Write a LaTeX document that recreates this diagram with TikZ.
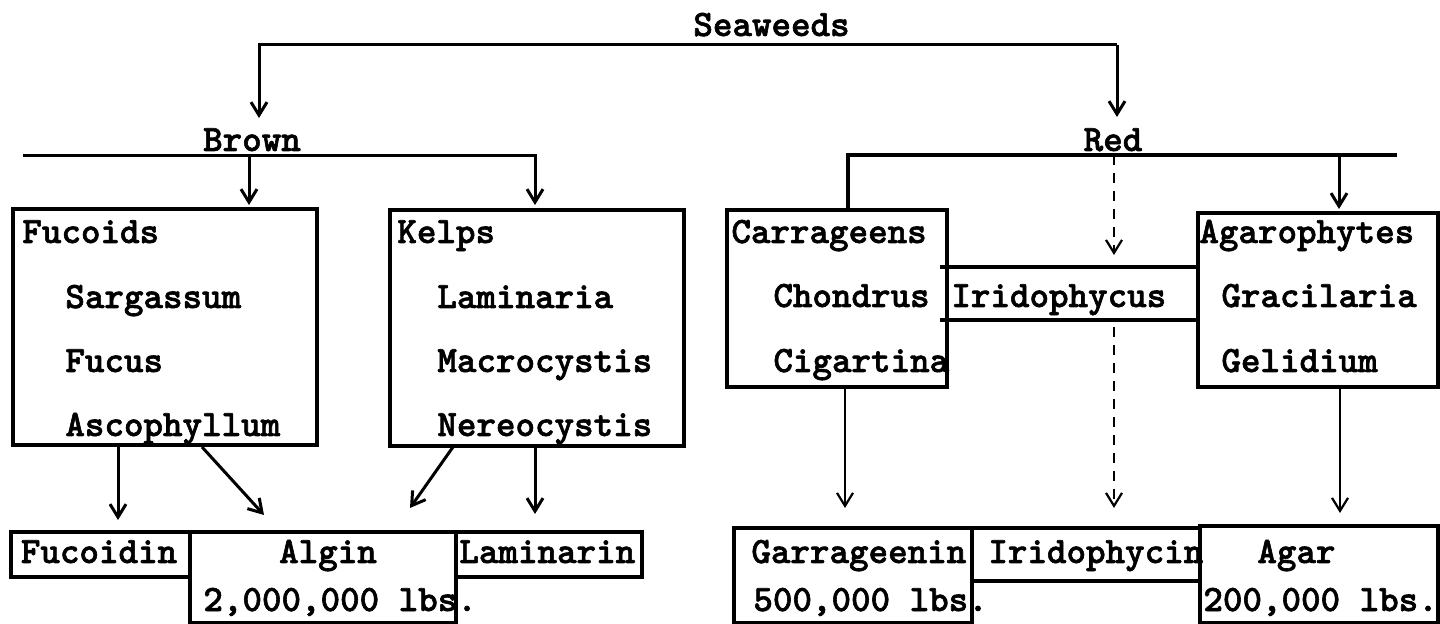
\documentclass[tikz,border=0pt]{standalone}
\usepackage{fontspec}
\newfontfamily\typewriter{lmmonolt10-bold}[Extension=.otf, FakeBold=1.6]
\usetikzlibrary{arrows.meta,fit}
\tikzset{
  lbl/.style={font=\typewriter\fontsize{18.6}{20}\selectfont, inner sep=0pt},
  box/.style={draw, line width=1.6pt, inner sep=0pt},
  ln/.style={line width=1.6pt},
  arr/.style={line width=1.5pt, -{Straight Barb[length=6.5pt,width=8pt]}},
  tarr/.style={line width=1.1pt, -{Straight Barb[length=6.5pt,width=8pt]}},
  darr/.style={tarr, dash pattern=on 5pt off 4pt},
}
\begin{document}
\begin{tikzpicture}[x=0.5pt,y=-0.5pt]
\fill[white] (0,0) rectangle (1440,624);
\useasboundingbox (0,0) rectangle (1440,624);

% ---------- headings ----------
\node[lbl, anchor=base west] (sea) at (693,36) {Seaweeds};
\node[lbl, anchor=base] (brown) at (252,151) {Brown};
\node[lbl, anchor=base] (red) at (1113,151) {Red};

% ---------- upper boxes ----------
\node[box, fit={(13,209) (317,445)}] (fuc) {};
\node[box, fit={(390,210) (684,446)}] (kel) {};
\node[box, fit={(727,210) (947,387)}] (car) {};
\node[box, fit={(1198,213) (1438,387)}] (aga) {};

\node[lbl, anchor=base west] (tFuc) at (22,243) {Fucoids};
\node[lbl, anchor=base west] (tSar) at (65,308) {Sargassum};
\node[lbl, anchor=base west] (tFcs) at (65,372) {Fucus};
\node[lbl, anchor=base west] (tAsc) at (65,436) {Ascophyllum};

\node[lbl, anchor=base west] (tKel) at (397,243) {Kelps};
\node[lbl, anchor=base west] (tLam) at (437,308) {Laminaria};
\node[lbl, anchor=base west] (tMac) at (437,372) {Macrocystis};
\node[lbl, anchor=base west] (tNer) at (437,436) {Nereocystis};

\node[lbl, anchor=base west] (tCar) at (731,243) {Carrageens};
\node[lbl, anchor=base west] (tCho) at (773,307) {Chondrus};
\node[lbl, anchor=base west] (tCig) at (773,372) {Cigartina};

\node[lbl, anchor=base west] (tAga) at (1199,243) {Agarophytes};
\node[lbl, anchor=base west] (tGra) at (1221,307) {Gracilaria};
\node[lbl, anchor=base west] (tGel) at (1221,372) {Gelidium};

% Iridophycus band
\coordinate (iTL) at (940,267); \coordinate (iTR) at (1198,267);
\coordinate (iBL) at (940,320); \coordinate (iBR) at (1198,320);
\draw[ln] (iTL) -- (iTR);
\draw[ln] (iBL) -- (iBR);
\node[lbl, anchor=base west] (irid) at (951,307) {Iridophycus};

% ---------- lower boxes ----------
\node[box, fit={(11,532) (190,577)}] (bFuc) {};
\node[box, fit={(190,532) (456,623)}] (bAlg) {};
\node[box, fit={(456,532) (642,577)}] (bLam) {};
\node[box, fit={(734,528) (972,623)}] (bCar) {};
\node[box, fit={(972,528) (1200,581)}] (bIri) {};
\node[box, fit={(1200,526) (1438,623)}] (bAga) {};

\node[lbl, anchor=base] (tFucoidin) at (99,563) {Fucoidin};
\node[lbl, anchor=base] (tAlgin) at (328,563) {Algin};
\node[lbl, anchor=base west] (tAlgN) at (203,611) {2,000,000 lbs.};
\node[lbl, anchor=base west] (tLaminarin) at (459,563) {Laminarin};
\node[lbl, anchor=base west] (tGarr) at (751,563) {Garrageenin};
\node[lbl, anchor=base west] (tGarrN) at (753,611) {500,000 lbs.};
\node[lbl, anchor=base west] (tIrin) at (988,563) {Iridophycin};
\node[lbl, anchor=base west] (tAgar) at (1257,563) {Agar};
\node[lbl, anchor=base west] (tAgarN) at (1203,611) {200,000 lbs.};

% ---------- tree connectors ----------
\coordinate (sL) at (259,45); \coordinate (sR) at (1117,45);
\coordinate (brTip) at (259,118); \coordinate (rdTip) at (1117,117);
\draw[arr] (sR) -- (sL) -- (brTip);
\draw[arr] (sR) -- (rdTip);

\coordinate (bL) at (23,156); \coordinate (bM) at (249,156); \coordinate (bR) at (535,156);
\draw[arr] (bL) -- (bR) -- (bR |- 0,205);
\draw[arr] (bM) -- (bM |- 0,205);

\coordinate (rL) at (848,155); \coordinate (rM) at (1114,155);
\coordinate (rA) at (1339,155); \coordinate (rR) at (1397,155);
\draw[ln] (car.north -| rL) -- (rL) -- (rR);
\draw[arr] (rA) -- (rA |- 0,209);
\draw[darr] (rM) -- (rM |- 0,255);

% ---------- product connectors ----------
\coordinate (p1) at (118,520);
\draw[arr] (fuc.south -| p1) -- (p1);
\coordinate (p2s) at (202,447); \coordinate (p2) at (264,515);
\draw[arr] (p2s) -- (p2);
\coordinate (p3s) at (453,447); \coordinate (p3) at (410,508);
\draw[arr] (p3s) -- (p3);
\coordinate (p4) at (535,514);
\draw[arr] (kel.south -| p4) -- (p4);

\coordinate (p5) at (845,508);
\draw[tarr] (car.south -| p5) -- (p5);
\coordinate (p6s) at (1114,327); \coordinate (p6) at (1114,508);
\draw[darr] (p6s) -- (p6);
\coordinate (p7) at (1340,513);
\draw[tarr] (aga.south -| p7) -- (p7);
\end{tikzpicture}
\end{document}
